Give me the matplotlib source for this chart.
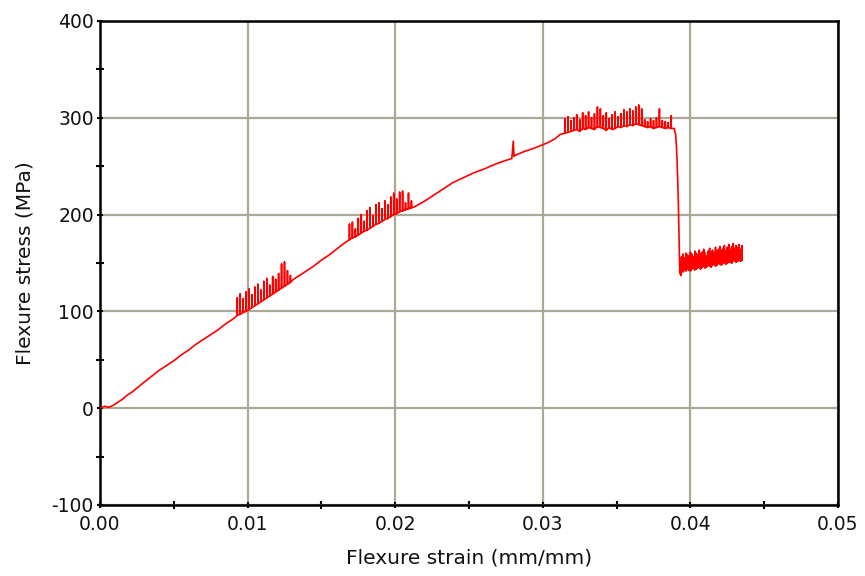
import matplotlib.pyplot as plt
from matplotlib.ticker import MultipleLocator

plt.rcParams['axes.unicode_minus'] = False

# strain in mm/mm, stress in MPa
toe_strain = [0, 0.0003, 0.0006, 0.0009, 0.0012, 0.0015, 0.0018, 0.0022, 0.0026, 0.003,
              0.0035, 0.004, 0.0045, 0.005, 0.0055, 0.006, 0.0065, 0.007, 0.0075, 0.008,
              0.0085, 0.009]
toe_stress = [0, 2, 1, 3, 6, 9, 13, 17, 22, 27, 33, 39, 44, 49, 55, 60, 66, 71, 76, 81, 87, 92]

# jagged stretch around 0.01
band1_strain = [0.0093, 0.0095, 0.0097, 0.0099, 0.0101, 0.0103, 0.0105, 0.0107, 0.0109, 0.0111,
                0.0113, 0.0115, 0.0117, 0.0119, 0.0121, 0.0123, 0.0125, 0.0127, 0.0129]
band1_low = [96, 97, 99, 100, 102, 104, 106, 108, 110, 112, 114, 116, 118, 120, 122, 124, 126, 128, 130]
band1_high = [114, 118, 113, 120, 123, 117, 125, 128, 122, 131, 134, 127, 136, 133, 139, 149, 151, 142, 137]

mid1_strain = [0.0131, 0.0135, 0.014, 0.0145, 0.015, 0.0155, 0.016, 0.0165]
mid1_stress = [133, 137, 142, 147, 153, 158, 164, 170]

# jagged stretch around 0.02
band2_strain = [0.0169, 0.0171, 0.0173, 0.0175, 0.0177, 0.0179, 0.0181, 0.0183, 0.0185, 0.0187,
                0.0189, 0.0191, 0.0193, 0.0195, 0.0197, 0.0199, 0.0201, 0.0203, 0.0205, 0.0207,
                0.0209, 0.0211]
band2_low = [174, 176, 177, 179, 181, 183, 184, 186, 188, 190, 191, 193, 195, 196, 198, 200,
             201, 203, 204, 205, 206, 207]
band2_high = [190, 192, 185, 196, 200, 193, 204, 207, 199, 210, 212, 206, 214, 210, 218, 222,
              216, 223, 224, 212, 222, 214]

mid2_strain = [0.0213, 0.022, 0.0226, 0.0233, 0.0239, 0.0246, 0.0253, 0.026, 0.0266, 0.0273,
               0.0279, 0.028, 0.02805, 0.0281, 0.0287, 0.0293, 0.0298, 0.0303, 0.0308, 0.0312]
mid2_stress = [208, 214, 220, 227, 233, 238, 243, 247, 251, 255, 258, 276, 260, 261, 265, 268,
               271, 274, 278, 283]

# peak plateau
band3_strain = [0.0315, 0.0317, 0.0319, 0.0321, 0.0323, 0.0325, 0.0327, 0.0329, 0.0331, 0.0333,
                0.0335, 0.0337, 0.0339, 0.0341, 0.0343, 0.0345, 0.0347, 0.0349, 0.0351, 0.0353,
                0.0355, 0.0357, 0.0359, 0.0361, 0.0363, 0.0365, 0.0367, 0.0369, 0.0371, 0.0373,
                0.0375, 0.0377, 0.0379, 0.0381, 0.0383, 0.0385, 0.0387]
band3_low = [284, 285, 286, 287, 288, 286, 289, 288, 290, 289, 288, 291, 290, 289, 287, 290,
             288, 289, 291, 290, 292, 291, 293, 292, 294, 293, 292, 291, 290, 291, 289, 290,
             291, 290, 289, 290, 289]
band3_high = [299, 301, 297, 300, 303, 298, 305, 302, 306, 300, 304, 311, 309, 302, 305, 299,
              303, 306, 301, 304, 308, 306, 309, 307, 311, 313, 309, 298, 296, 299, 297, 300,
              309, 297, 296, 295, 302]

# failure drop
drop_strain = [0.0389, 0.039, 0.03905, 0.0391, 0.03918, 0.03928, 0.03935]
drop_stress = [289, 283, 272, 255, 215, 140, 137]

# residual load after failure
band4_strain = [0.0394, 0.0395, 0.0396, 0.0397, 0.0398, 0.0399, 0.04, 0.0401, 0.0402, 0.0403,
                0.0404, 0.0405, 0.0406, 0.0407, 0.0408, 0.0409, 0.041, 0.0411, 0.0412, 0.0413,
                0.0414, 0.0415, 0.0416, 0.0417, 0.0418, 0.0419, 0.042, 0.0421, 0.0422, 0.0423,
                0.0424, 0.0425, 0.0426, 0.0427, 0.0428, 0.0429, 0.043, 0.0431, 0.0432, 0.0433,
                0.0434, 0.0435]
band4_low = [142, 141, 143, 142, 144, 143, 142, 144, 145, 143, 144, 146, 145, 144, 146, 147,
             145, 146, 148, 147, 146, 148, 149, 147, 148, 150, 149, 148, 150, 151, 149, 150,
             152, 151, 150, 152, 153, 151, 152, 153, 152, 153]
band4_high = [156, 159, 155, 160, 158, 157, 161, 159, 156, 162, 160, 158, 163, 159, 161, 164,
              160, 157, 162, 165, 161, 163, 160, 166, 162, 164, 167, 163, 165, 168, 162, 166,
              169, 164, 167, 170, 165, 168, 166, 169, 164, 168]


def spikes(strain, low, high):
    # each reading: straight up to the peak and back down to the base
    xs, ys = [], []
    for s, lo, hi in zip(strain, low, high):
        xs += [s, s, s]
        ys += [lo, hi, lo]
    return xs, ys


x, y = [], []
x += toe_strain; y += toe_stress
bx, by = spikes(band1_strain, band1_low, band1_high); x += bx; y += by
x += mid1_strain; y += mid1_stress
bx, by = spikes(band2_strain, band2_low, band2_high); x += bx; y += by
x += mid2_strain; y += mid2_stress
bx, by = spikes(band3_strain, band3_low, band3_high); x += bx; y += by
x += drop_strain; y += drop_stress
bx, by = spikes(band4_strain, band4_low, band4_high); x += bx; y += by

fig = plt.figure(figsize=(8.65, 5.76), dpi=100)
ax = fig.add_axes([100 / 865, 71 / 576, 738 / 865, 484 / 576])

ax.plot(x, y, color='#ff0000', lw=1.2, zorder=3)

ax.set_xlim(0, 0.05)
ax.set_ylim(-100, 400)
ax.xaxis.set_major_locator(MultipleLocator(0.01))
ax.xaxis.set_minor_locator(MultipleLocator(0.005))
ax.yaxis.set_major_locator(MultipleLocator(100))
ax.yaxis.set_minor_locator(MultipleLocator(50))
ax.xaxis.set_major_formatter(plt.FormatStrFormatter('%.2f'))

ax.grid(True, which='major', color='#aca898', lw=1.6, zorder=1)
ax.set_axisbelow(True)
for sp in ax.spines.values():
    sp.set_linewidth(1.8)
    sp.set_color('black')

ax.tick_params(which='both', direction='inout', width=1.5, color='black')
ax.tick_params(which='major', length=5, labelsize=13.5, labelcolor='#111111')
ax.tick_params(which='minor', length=6)
ax.tick_params(axis='x', which='major', pad=5)
ax.tick_params(axis='y', which='major', pad=2)

ax.set_xlabel('Flexure strain (mm/mm)', fontsize=14.5, labelpad=10, color='#111111')
ax.set_ylabel('Flexure stress (MPa)', fontsize=14.5, labelpad=12, color='#111111')

fig.savefig('out.png', dpi=100)
